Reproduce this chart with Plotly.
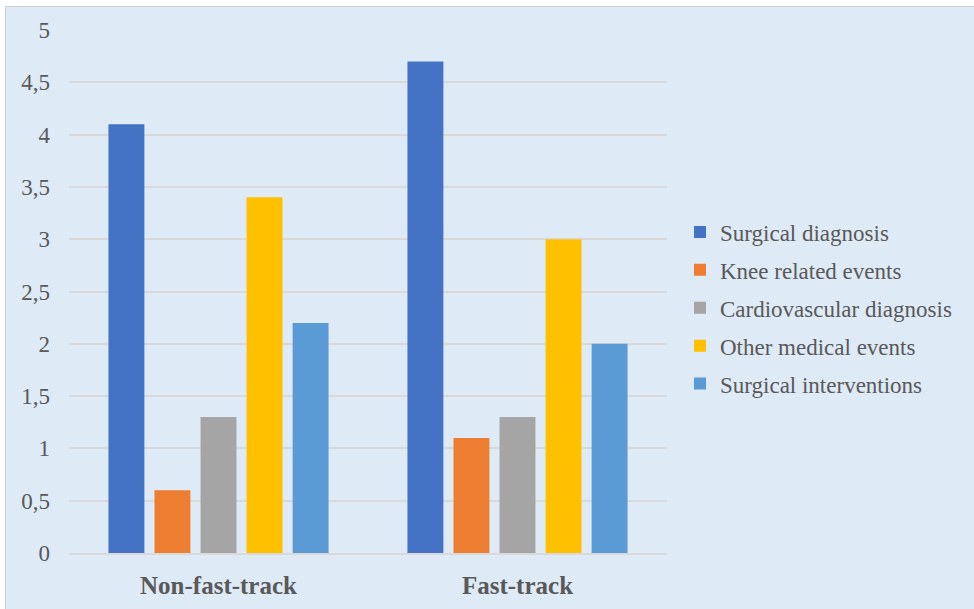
import plotly.graph_objects as go

categories = ["Non-fast-track", "Fast-track"]
series_names = [
    "Surgical diagnosis",
    "Knee related events",
    "Cardiovascular diagnosis",
    "Other medical events",
    "Surgical interventions",
]
series_values = [
    [4.1, 4.7],
    [0.6, 1.1],
    [1.3, 1.3],
    [3.4, 3.0],
    [2.2, 2.0],
]
series_colors = ["#4472C4", "#ED7D31", "#A5A5A5", "#FFC000", "#5B9BD5"]
y_ticks = [0, 0.5, 1, 1.5, 2, 2.5, 3, 3.5, 4, 4.5, 5]
y_tick_text = ["0", "0,5", "1", "1,5", "2", "2,5", "3", "3,5", "4", "4,5", "5"]

W, H = 974, 609
L, R, T, B = 69, 307, 30, 56
pw, ph = W - L - R, H - T - B

fig = go.Figure()
for i, (name, vals, col) in enumerate(zip(series_names, series_values, series_colors)):
    fig.add_trace(go.Bar(
        x=categories, y=vals, name=name,
        marker=dict(color=col, line=dict(width=0)),
        legendgroup=f"g{i}",
    ))

def px_to_paper_x(px):
    return (px - L) / pw

def px_to_paper_y(py):
    return (H - B - py) / ph

text_col = "#595959"
font_family = "Liberation Serif"

fig.update_layout(
    width=W, height=H,
    margin=dict(l=L, r=R, t=T, b=B, pad=0, autoexpand=False),
    paper_bgcolor="white",
    plot_bgcolor="rgba(0,0,0,0)",
    barmode="group",
    bargap=0.23,
    bargroupgap=0.22,
    font=dict(family=font_family, color=text_col, size=23),
    showlegend=True,
    legend=dict(
        x=px_to_paper_x(680), xanchor="left",
        y=px_to_paper_y(308), yanchor="middle",
        bgcolor="rgba(0,0,0,0)",
        font=dict(size=23, color=text_col, family=font_family),
        traceorder="grouped",
        tracegroupgap=5,
    ),
    shapes=[dict(
        type="rect", xref="paper", yref="paper", layer="below",
        x0=px_to_paper_x(5.5), x1=px_to_paper_x(990),
        y0=px_to_paper_y(620), y1=px_to_paper_y(6.5),
        fillcolor="#DEEAF6", line=dict(color="#D0D0D0", width=1),
    )],
)

fig.update_yaxes(
    range=[0, 5], automargin=False,
    tickvals=y_ticks, ticktext=y_tick_text,
    showgrid=True, gridcolor="#D9D9D9", gridwidth=1.5,
    zeroline=False, showline=False,
    ticks="", ticklabelstandoff=18,
    tickfont=dict(size=23, color=text_col, family=font_family),
)
fig.update_xaxes(
    automargin=False,
    showgrid=False, zeroline=False,
    showline=True, linecolor="#D9D9D9", linewidth=1.5,
    ticks="", ticklabelstandoff=9,
    tickfont=dict(size=25, color=text_col, family=font_family, weight="bold"),
)

fig.write_html("out.html")
